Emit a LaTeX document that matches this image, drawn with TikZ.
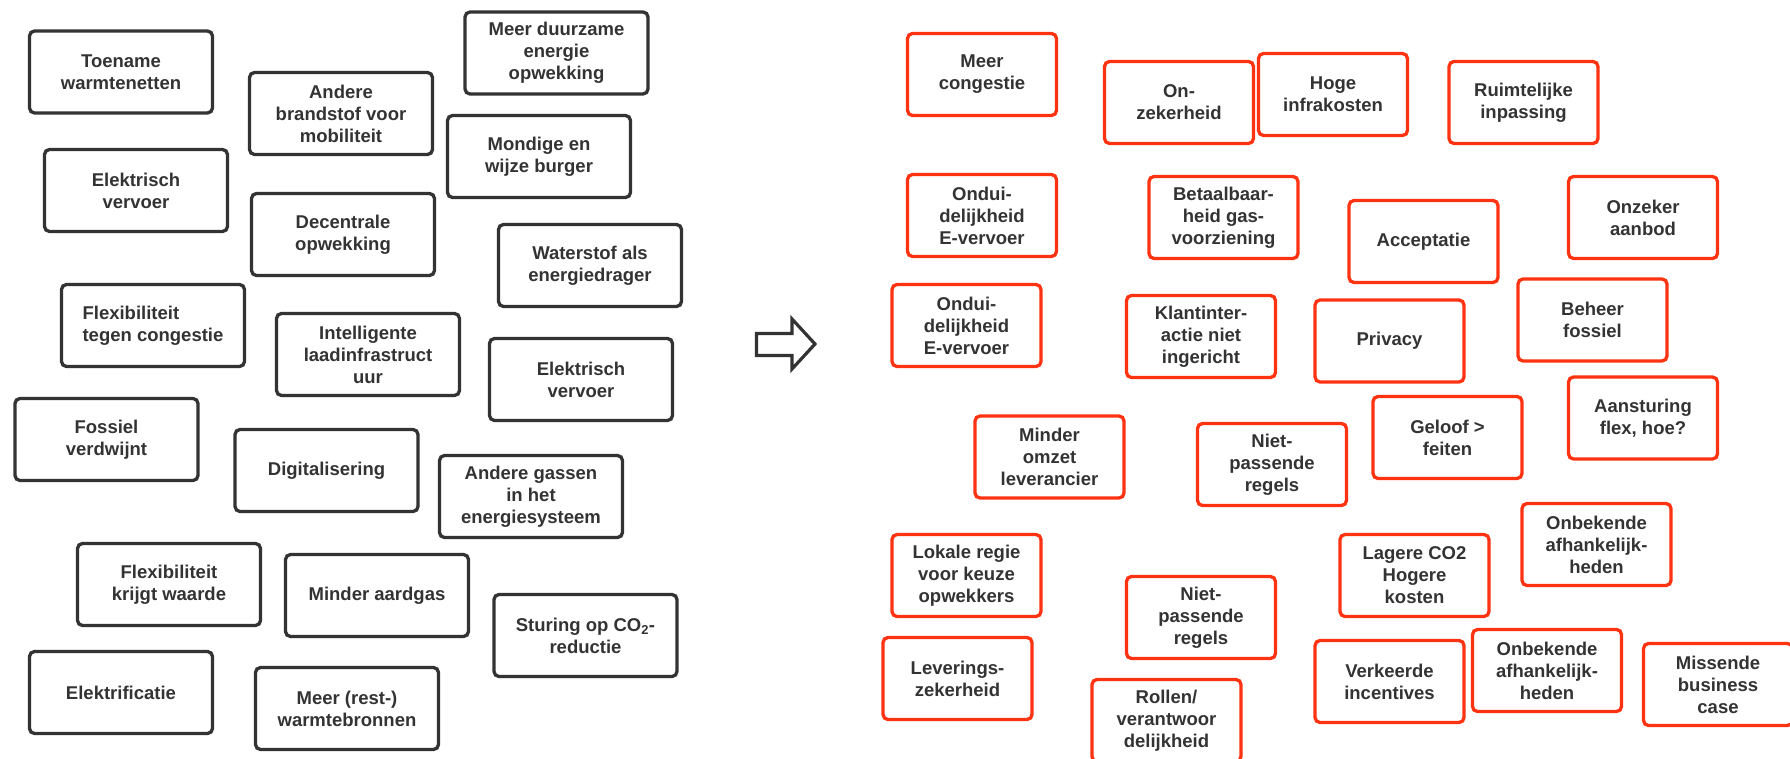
\documentclass[tikz,border=0pt]{standalone}
\usepackage{fontspec}
\setmainfont{Liberation Sans}
\definecolor{ink}{HTML}{333333}
\definecolor{alert}{HTML}{FF3311}
\begin{document}
\begin{tikzpicture}[x=1pt,y=-1pt,
  card/.style={draw=ink, line width=3.3pt, rounded corners=5pt, fill=white,
    minimum width=183pt, minimum height=82pt, inner sep=0pt, align=center,
    text=ink, font=\fontsize{18.5}{22}\selectfont\bfseries},
  riskcard/.style={card, draw=alert, minimum width=149pt},
  bigarrow/.style={draw=ink, line width=3.2pt, fill=white, line join=miter}]
\useasboundingbox (0,0) rectangle (1790,759);

% trends
\node[card] (t1)  at (121,72)      {Toename\\warmtenetten};
\node[card] (t2)  at (341,113.5)   {Andere\\brandstof voor\\mobiliteit};
\node[card] (t3)  at (556.5,53)    {Meer duurzame\\energie\\opwekking};
\node[card] (t4)  at (539,156.5)   {Mondige en\\wijze burger};
\node[card] (t5)  at (136,190.5)   {Elektrisch\\vervoer};
\node[card] (t6)  at (343,234.5)   {Decentrale\\opwekking};
\node[card] (t7)  at (590,265.5)   {Waterstof als\\energiedrager};
\node[card, align=left] (t8) at (153,325.5) {Flexibiliteit\\tegen congestie};
\node[card] (t9)  at (368,354.5)   {Intelligente\\laadinfrastruct\\uur};
\node[card] (t10) at (581,379.5)   {Elektrisch\\vervoer};
\node[card] (t11) at (106.5,439.5) {Fossiel\\verdwijnt};
\node[card] (t12) at (326.5,470.5) {Digitalisering};
\node[card] (t13) at (531,496.5)   {Andere gassen\\in het\\energiesysteem};
\node[card] (t14) at (169,584.5)   {Flexibiliteit\\krijgt waarde};
\node[card] (t15) at (377,595.5)   {Minder aardgas};
\node[card] (t16) at (585.5,635.5) {Sturing op CO\textsubscript{2}-\\reductie};
\node[card] (t17) at (121,692.5)   {Elektrificatie};
\node[card] (t18) at (347,708.5)   {Meer (rest-)\\warmtebronnen};

% transition arrow
\draw[bigarrow] (756.5,333.5) -- (792,333.5) -- (792,319) -- (815,344)
  -- (792,369) -- (792,355.5) -- (756.5,355.5) -- cycle;

% consequences
\node[riskcard] (r1)  at (982,74.5)     {Meer\\congestie};
\node[riskcard] (r2)  at (1179,102.5)   {On-\\zekerheid};
\node[riskcard] (r3)  at (1333,94.5)    {Hoge\\infrakosten};
\node[riskcard] (r4)  at (1523.5,102.5) {Ruimtelijke\\inpassing};
\node[riskcard] (r5)  at (982,215.5)    {Ondui-\\delijkheid\\E-vervoer};
\node[riskcard] (r6)  at (1223.5,217.5) {Betaalbaar-\\heid gas-\\voorziening};
\node[riskcard] (r7)  at (1423.5,241.5) {Acceptatie};
\node[riskcard] (r8)  at (1643,217.5)   {Onzeker\\aanbod};
\node[riskcard] (r9)  at (966.5,325.5)  {Ondui-\\delijkheid\\E-vervoer};
\node[riskcard] (r10) at (1201,336.5)   {Klantinter-\\actie niet\\ingericht};
\node[riskcard] (r11) at (1389.5,341)   {Privacy};
\node[riskcard] (r12) at (1592.5,320)   {Beheer\\fossiel};
\node[riskcard] (r13) at (1643,418)     {Aansturing\\flex, hoe?};
\node[riskcard] (r14) at (1049.5,457)   {Minder\\omzet\\leverancier};
\node[riskcard] (r15) at (1272,464.5)   {Niet-\\passende\\regels};
\node[riskcard] (r16) at (1447.5,437.5) {Geloof >\\feiten};
\node[riskcard] (r17) at (1596.5,544.5) {Onbekende\\afhankelijk-\\heden};
\node[riskcard] (r18) at (966.5,575.5)  {Lokale regie\\voor keuze\\opwekkers};
\node[riskcard] (r19) at (1414.5,575.5) {Lagere CO2\\Hogere\\kosten};
\node[riskcard] (r20) at (1201,617.5)   {Niet-\\passende\\regels};
\node[riskcard] (r21) at (957.5,678.5)  {Leverings-\\zekerheid};
\node[riskcard] (r22) at (1166.5,720.5) {Rollen/\\verantwoor\\delijkheid};
\node[riskcard] (r23) at (1389.5,681.5) {Verkeerde\\incentives};
\node[riskcard] (r24) at (1547,670.5)   {Onbekende\\afhankelijk-\\heden};
\node[riskcard] (r25) at (1718,684.5)   {Missende\\business\\case};
\end{tikzpicture}
\end{document}
